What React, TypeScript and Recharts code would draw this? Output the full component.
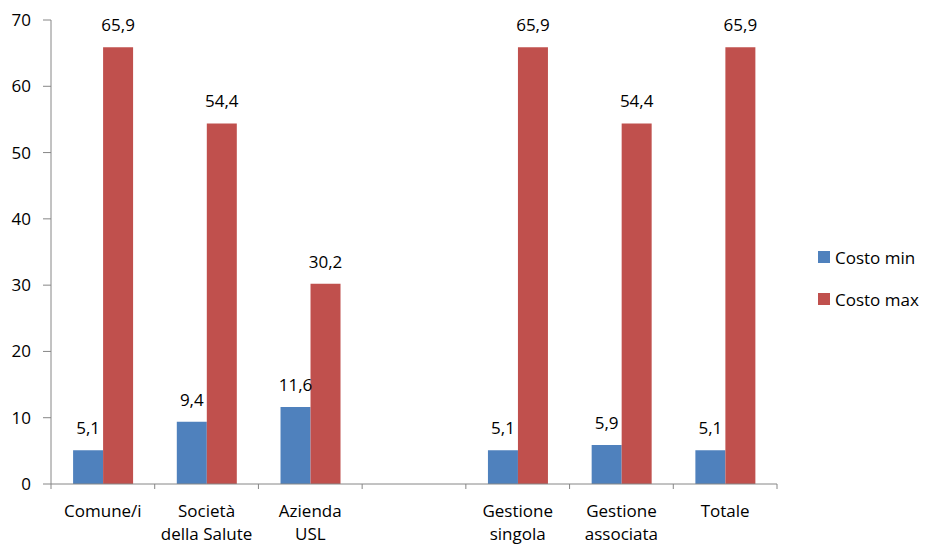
import { BarChart, Bar, XAxis, YAxis, Legend, LabelList } from "recharts";

const categories = [
  ["Comune/i"],
  ["Società", "della Salute"],
  ["Azienda", "USL"],
  [""],
  ["Gestione", "singola"],
  ["Gestione", "associata"],
  ["Totale"],
];
const costoMin = [5.1, 9.4, 11.6, null, 5.1, 5.9, 5.1];
const costoMax = [65.9, 54.4, 30.2, null, 65.9, 54.4, 65.9];
const seriesNames = ["Costo min", "Costo max"];
const yTicks = [0, 10, 20, 30, 40, 50, 60, 70];

const data = categories.map((lines, i) => ({
  name: lines.join(" ") || " ",
  min: costoMin[i],
  max: costoMax[i],
}));

const FONT = "'Open Sans', sans-serif";
const FS = 17;
const AXIS = "#868686";
const W = 927;
const H = 544;
const PLOT_LEFT = 51;
const PLOT_RIGHT = 777;
const BAND = (PLOT_RIGHT - PLOT_LEFT) / categories.length;

const fmt = (v: any) => (v == null ? "" : Number(v).toFixed(1).replace(".", ","));

const CategoryTick = (props: any) => {
  const { x, y, index } = props;
  const lines = categories[index] || [];
  const left = x - BAND / 2;
  const right = x + BAND / 2;
  return (
    <g>
      <line x1={left} y1={y} x2={left} y2={y + 5} stroke={AXIS} />
      {index === categories.length - 1 && (
        <line x1={right} y1={y} x2={right} y2={y + 5} stroke={AXIS} />
      )}
      {lines.map((t, i) => (
        <text
          key={i}
          x={x}
          y={y + 33 + i * 23}
          textAnchor="middle"
          fontFamily={FONT}
          fontSize={FS}
          fill="#000"
        >
          {t}
        </text>
      ))}
    </g>
  );
};

// legend rows in series order
const LegendBox = (props: any) => {
  const { payload = [] } = props;
  const items = seriesNames
    .map((n) => payload.find((p: any) => p.value === n))
    .filter(Boolean);
  return (
    <div style={{ fontFamily: FONT, fontSize: FS, color: "#000" }}>
      {items.map((p: any) => (
        <div
          key={p.value}
          style={{ height: 42, display: "flex", alignItems: "center" }}
        >
          <span
            style={{
              width: 12,
              height: 12,
              background: p.color,
              display: "inline-block",
              marginRight: 5,
            }}
          />
          <span>{p.value}</span>
        </div>
      ))}
    </div>
  );
};

export default function App() {
  return (
    <div style={{ position: "absolute", left: 0, top: 0, background: "#fff" }}>
      <BarChart
        width={W}
        height={H}
        data={data}
        margin={{ top: 20, right: 35, bottom: 30, left: 0 }}
        barCategoryGap="21.3%"
        barGap={0}
      >
        <XAxis
          dataKey="name"
          height={30}
          stroke={AXIS}
          tickLine={false}
          tickSize={0}
          tickMargin={0}
          interval={0}
          tick={<CategoryTick />}
        />
        <YAxis
          width={51}
          domain={[0, 70]}
          ticks={yTicks}
          interval={0}
          stroke={AXIS}
          tickSize={8}
          tickMargin={12}
          tick={{ fill: "#000", fontFamily: FONT, fontSize: FS }}
        />
        <Legend
          layout="vertical"
          align="right"
          verticalAlign="middle"
          wrapperStyle={{ left: 818, top: 236, width: 115 }}
          content={<LegendBox />}
        />
        <Bar dataKey="min" name={seriesNames[0]} fill="#4F81BD" isAnimationActive={false}>
          <LabelList
            dataKey="min"
            position="top"
            offset={16}
            formatter={fmt}
            style={{ fill: "#000", fontFamily: FONT, fontSize: FS }}
          />
        </Bar>
        <Bar dataKey="max" name={seriesNames[1]} fill="#C0504D" isAnimationActive={false}>
          <LabelList
            dataKey="max"
            position="top"
            offset={16}
            formatter={fmt}
            style={{ fill: "#000", fontFamily: FONT, fontSize: FS }}
          />
        </Bar>
      </BarChart>
    </div>
  );
}
